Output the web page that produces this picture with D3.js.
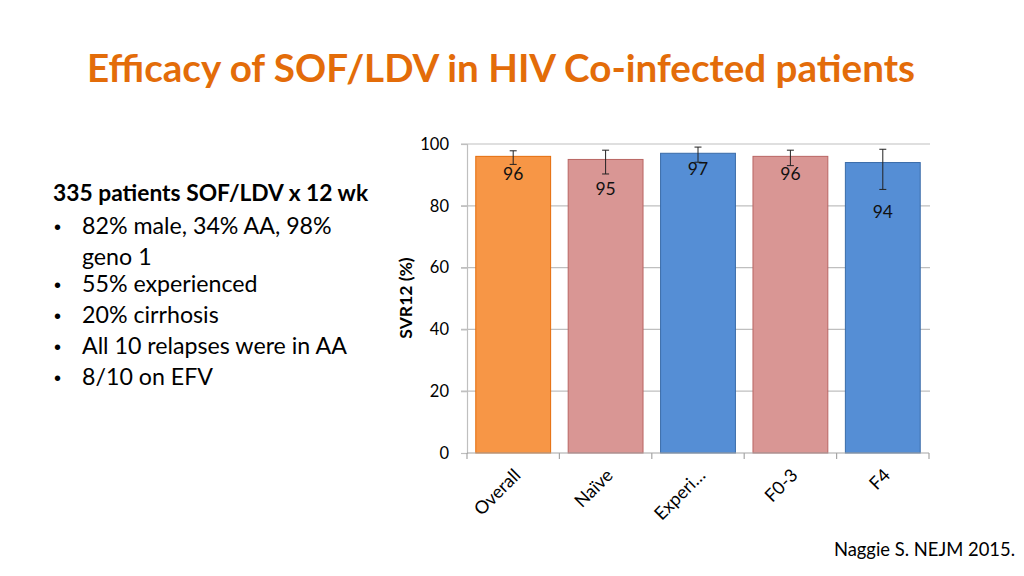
<!DOCTYPE html>
<html><head><meta charset="utf-8">
<script src="https://cdn.jsdelivr.net/npm/d3@7"></script>
<style>html,body{margin:0;padding:0;background:#fff;}svg{display:block;}</style>
</head><body>
<svg id="c" width="1024" height="576"></svg>
<script>
// ---- data ----
const categories = ["Overall", "Naïve", "Experi…", "F0-3", "F4"];
const svr12 = [96, 95, 97, 96, 94];
const errLow = [93.4, 90.3, 94.1, 93.0, 85.3];
const errHigh = [97.8, 98.0, 99.0, 98.0, 98.3];
const yTicks = [0, 20, 40, 60, 80, 100];
const barGroups = ["overall", "sub", "exp", "sub", "exp"];
const bullets = ["82% male, 34% AA, 98%", "geno 1", "55% experienced", "20% cirrhosis", "All 10 relapses were in AA", "8/10 on EFV"];

// ---- styles ----
const fills = {overall: "#F79646", sub: "#D99694", exp: "#558ED5"};
const strokes = {overall: "#E46C0A", sub: "#B96563", exp: "#3A6BA8"};
const labelDy = [18, 29, 16, 18, 49];
const font = "Lato, 'Open Sans', sans-serif";

const svg = d3.select("#c");

// title
svg.append("text").attr("x", 501).attr("y", 82).attr("text-anchor", "middle")
  .attr("font-family", font).attr("font-weight", "bold").attr("font-size", 38.6)
  .attr("fill", "#E36C09").text("Efficacy of SOF/LDV in HIV Co-infected patients");

// left text
svg.append("text").attr("x", 53).attr("y", 201).attr("font-family", font)
  .attr("font-weight", "bold").attr("font-size", 22.8).attr("fill", "#000")
  .text("335 patients SOF/LDV x 12 wk");
const lineY = [234, 265, 292, 323, 354, 385];
const bulletShow = [true, false, true, true, true, true];
bullets.forEach((t, i) => {
  if (bulletShow[i]) svg.append("text").attr("x", 54).attr("y", lineY[i]).attr("font-family", "Arial, sans-serif")
    .attr("font-size", 20).text("•");
  svg.append("text").attr("x", 82).attr("y", lineY[i]).attr("font-family", font)
    .attr("font-size", 23.2).attr("fill", "#000").text(t);
});

// chart
const x = d3.scaleBand().domain(categories).range([467, 929]).paddingInner(0.19).paddingOuter(0.095);
const y = d3.scaleLinear().domain([0, 100]).range([453, 144]);

// gridlines
svg.append("g").selectAll("line").data(yTicks.filter(d => d > 0)).join("line")
  .attr("x1", 461).attr("x2", 930).attr("y1", d => y(d)).attr("y2", d => y(d))
  .attr("stroke", "#BFBFBF").attr("stroke-width", 1.2);

// y axis
const yAxis = svg.append("g").attr("transform", "translate(467,0)")
  .call(d3.axisLeft(y).tickValues(yTicks).tickSize(6).tickPadding(12));
yAxis.select(".domain").attr("stroke", "#BFBFBF").attr("stroke-width", 1.2);
yAxis.selectAll(".tick line").attr("stroke", "#BFBFBF").attr("stroke-width", 1.2);
yAxis.selectAll("text").attr("font-family", font).attr("font-size", 16.5).attr("fill", "#000");

// bars
svg.append("g").selectAll("rect").data(categories).join("rect")
  .attr("x", d => x(d)).attr("width", x.bandwidth())
  .attr("y", (d, i) => y(svr12[i])).attr("height", (d, i) => y(0) - y(svr12[i]))
  .attr("fill", (d, i) => fills[barGroups[i]]).attr("stroke", (d, i) => strokes[barGroups[i]]).attr("stroke-width", 1);

// x axis
const xAxisScale = d3.scalePoint().domain(d3.range(categories.length + 1)).range([467, 929]);
svg.append("line").attr("x1", 467).attr("x2", 929).attr("y1", y(0)).attr("y2", y(0))
  .attr("stroke", "#A6A6A6").attr("stroke-width", 1.2);
svg.append("g").selectAll("line").data(xAxisScale.domain()).join("line")
  .attr("x1", d => xAxisScale(d)).attr("x2", d => xAxisScale(d)).attr("y1", y(0)).attr("y2", y(0) + 6)
  .attr("stroke", "#A6A6A6").attr("stroke-width", 1.2);
svg.append("g").selectAll("text").data(categories).join("text")
  .attr("transform", d => `translate(${x(d) + x.bandwidth() / 2 + 4},${y(0) + 19}) rotate(-45)`)
  .attr("text-anchor", "end").attr("dy", "0.35em")
  .attr("font-family", font).attr("font-size", 18).attr("fill", "#000").text(d => d);

// error bars
const eb = svg.append("g").attr("stroke", "#222").attr("stroke-width", 1);
categories.forEach((c, i) => {
  const cx = x(c) + x.bandwidth() / 2;
  eb.append("line").attr("x1", cx).attr("x2", cx).attr("y1", y(errHigh[i])).attr("y2", y(errLow[i]));
  eb.append("line").attr("x1", cx - 3.5).attr("x2", cx + 3.5).attr("y1", y(errHigh[i])).attr("y2", y(errHigh[i]));
  eb.append("line").attr("x1", cx - 3.5).attr("x2", cx + 3.5).attr("y1", y(errLow[i])).attr("y2", y(errLow[i]));
});

// value labels
svg.append("g").selectAll("text").data(categories).join("text")
  .attr("x", d => x(d) + x.bandwidth() / 2).attr("y", (d, i) => y(svr12[i]) + labelDy[i])
  .attr("dy", "0.35em").attr("text-anchor", "middle")
  .attr("font-family", font).attr("font-size", 17.5).attr("fill", "#111").text((d, i) => svr12[i]);

// y title
svg.append("text").attr("transform", "translate(412,298) rotate(-90)").attr("text-anchor", "middle")
  .attr("font-family", font).attr("font-weight", "bold").attr("font-size", 17.5).text("SVR12 (%)");

// source
svg.append("text").attr("x", 1015).attr("y", 556).attr("text-anchor", "end")
  .attr("font-family", font).attr("font-size", 18.4).text("Naggie S. NEJM 2015.");
</script>
</body></html>
